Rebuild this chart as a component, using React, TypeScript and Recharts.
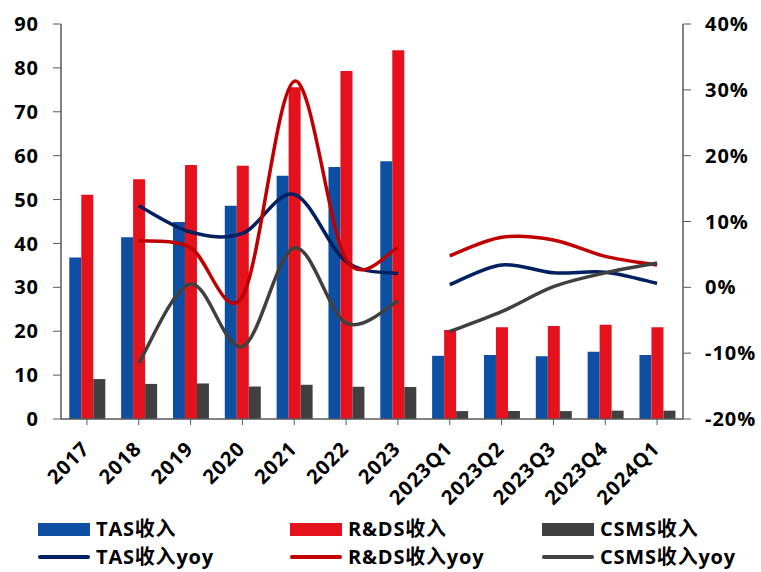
import React from 'react';
import { ComposedChart, Bar, Line, XAxis, YAxis } from 'recharts';

const categories = ['2017', '2018', '2019', '2020', '2021', '2022', '2023', '2023Q1', '2023Q2', '2023Q3', '2023Q4', '2024Q1'];
const tasRevenue = [36.8, 41.4, 44.9, 48.6, 55.4, 57.4, 58.7, 14.4, 14.6, 14.3, 15.3, 14.6];
const rdsRevenue = [51.1, 54.6, 57.9, 57.7, 75.6, 79.3, 84.0, 20.3, 20.9, 21.2, 21.5, 20.9];
const csmsRevenue = [9.1, 8.0, 8.1, 7.4, 7.8, 7.35, 7.3, 1.8, 1.8, 1.8, 1.9, 1.9];
// YoY (%), null where not present
const tasYoy = [null, 12.4, 8.4, 8.2, 14.1, 3.9, 2.1, 0.4, 3.4, 2.2, 2.3, 0.6];
const rdsYoy = [null, 7.1, 6.0, -1.4, 31.3, 4.2, 6.0, 4.8, 7.6, 7.2, 4.7, 3.4];
const csmsYoy = [null, -11.5, 0.5, -9.0, 6.0, -5.4, -2.1, -6.7, -3.7, 0.1, 2.2, 3.7];
const annualCount = 7;
const leftTicks = [0, 10, 20, 30, 40, 50, 60, 70, 80, 90];
const rightTicks = [-20, -10, 0, 10, 20, 30, 40];

const data = categories.map((c, i) => ({
  name: c,
  tas: tasRevenue[i],
  rds: rdsRevenue[i],
  csms: csmsRevenue[i],
  tasYoyA: i < annualCount ? tasYoy[i] : null,
  tasYoyQ: i >= annualCount ? tasYoy[i] : null,
  rdsYoyA: i < annualCount ? rdsYoy[i] : null,
  rdsYoyQ: i >= annualCount ? rdsYoy[i] : null,
  csmsYoyA: i < annualCount ? csmsYoy[i] : null,
  csmsYoyQ: i >= annualCount ? csmsYoy[i] : null,
}));

// Excel-like smoothing curve (Catmull-Rom style cubic Bezier)
function excelCurve(context: any) {
  let pts: number[][] = [];
  return {
    areaStart() {},
    areaEnd() {},
    lineStart() {
      pts = [];
    },
    lineEnd() {
      const n = pts.length;
      if (n === 0) return;
      context.moveTo(pts[0][0], pts[0][1]);
      if (n === 1) {
        context.lineTo(pts[0][0], pts[0][1]);
        return;
      }
      for (let i = 0; i < n - 1; i++) {
        const p0 = pts[i - 1] || pts[i];
        const p1 = pts[i];
        const p2 = pts[i + 1];
        const p3 = pts[i + 2] || p2;
        const c1x = p1[0] + (p2[0] - p0[0]) / 6;
        const c1y = p1[1] + (p2[1] - p0[1]) / 6;
        const c2x = p2[0] - (p3[0] - p1[0]) / 6;
        const c2y = p2[1] - (p3[1] - p1[1]) / 6;
        context.bezierCurveTo(c1x, c1y, c2x, c2y, p2[0], p2[1]);
      }
    },
    point(x: number, y: number) {
      pts.push([+x, +y]);
    },
  };
}

const FONT = '"Open Sans", "Noto Sans CJK SC", sans-serif';
const AXIS_COLOR = '#595959';

const XTick = (props: any) => {
  const { x, y, payload } = props;
  const ax = x + 4;
  const ay = y + 23;
  return (
    <text
      x={ax}
      y={ay}
      textAnchor="end"
      transform={`rotate(-45, ${ax}, ${ay})`}
      fontFamily={FONT}
      fontWeight={700}
      fontSize={20}
      letterSpacing={1}
      fill="#000"
    >
      {payload.value}
    </text>
  );
};

const legendItems = [
  { label: 'TAS收入', color: '#0D4FA3', kind: 'bar' },
  { label: 'R&DS收入', color: '#E5121D', kind: 'bar' },
  { label: 'CSMS收入', color: '#404040', kind: 'bar' },
  { label: 'TAS收入yoy', color: '#002060', kind: 'line' },
  { label: 'R&DS收入yoy', color: '#C00000', kind: 'line' },
  { label: 'CSMS收入yoy', color: '#404040', kind: 'line' },
];
const legendCols = [38, 290, 542];
const legendRows = [529, 557];

export default function App() {
  return (
    <div style={{ position: 'absolute', left: 0, top: 0, width: 761, height: 572, background: '#fff' }}>
      <ComposedChart
        width={761}
        height={572}
        data={data}
        margin={{ top: 24, right: 0, bottom: 0, left: 0 }}
        barCategoryGap="16%"
        barGap={0}
      >
        <XAxis
          dataKey="name"
          height={153}
          tick={<XTick />}
          interval={0}
          tickLine={{ stroke: AXIS_COLOR }}
          axisLine={{ stroke: AXIS_COLOR, strokeWidth: 1.5 }}
          tickSize={6}
        />
        <YAxis
          yAxisId="left"
          orientation="left"
          width={61}
          domain={[0, 90]}
          ticks={leftTicks}
          interval={0}
          tickSize={8}
          tickMargin={14}
          tickLine={{ stroke: AXIS_COLOR }}
          axisLine={{ stroke: AXIS_COLOR, strokeWidth: 1.5 }}
          tick={{ fontFamily: FONT, fontWeight: 700, fontSize: 20, letterSpacing: 1, fill: '#000' }}
        />
        <YAxis
          yAxisId="right"
          orientation="right"
          width={78}
          domain={[-20, 40]}
          ticks={rightTicks}
          interval={0}
          tickSize={8}
          tickMargin={14}
          tickFormatter={(v: number) => `${v}%`}
          tickLine={{ stroke: AXIS_COLOR }}
          axisLine={{ stroke: AXIS_COLOR, strokeWidth: 1.5 }}
          tick={{ fontFamily: FONT, fontWeight: 700, fontSize: 20, letterSpacing: 1, fill: '#000', textAnchor: 'start' }}
        />
        <Bar yAxisId="left" dataKey="tas" fill="#0D4FA3" isAnimationActive={false} />
        <Bar yAxisId="left" dataKey="rds" fill="#E5121D" isAnimationActive={false} />
        <Bar yAxisId="left" dataKey="csms" fill="#404040" isAnimationActive={false} />
        <Line yAxisId="right" dataKey="tasYoyA" type={excelCurve as any} stroke="#002060" strokeWidth={3.5} dot={false} activeDot={false} connectNulls={false} isAnimationActive={false} />
        <Line yAxisId="right" dataKey="tasYoyQ" type={excelCurve as any} stroke="#002060" strokeWidth={3.5} dot={false} activeDot={false} connectNulls={false} isAnimationActive={false} />
        <Line yAxisId="right" dataKey="rdsYoyA" type={excelCurve as any} stroke="#C00000" strokeWidth={3.5} dot={false} activeDot={false} connectNulls={false} isAnimationActive={false} />
        <Line yAxisId="right" dataKey="rdsYoyQ" type={excelCurve as any} stroke="#C00000" strokeWidth={3.5} dot={false} activeDot={false} connectNulls={false} isAnimationActive={false} />
        <Line yAxisId="right" dataKey="csmsYoyA" type={excelCurve as any} stroke="#404040" strokeWidth={3.5} dot={false} activeDot={false} connectNulls={false} isAnimationActive={false} />
        <Line yAxisId="right" dataKey="csmsYoyQ" type={excelCurve as any} stroke="#404040" strokeWidth={3.5} dot={false} activeDot={false} connectNulls={false} isAnimationActive={false} />
      </ComposedChart>
      {legendItems.map((item, i) => {
        const col = legendCols[i % 3];
        const rowY = legendRows[Math.floor(i / 3)];
        return (
          <div
            key={item.label}
            style={{
              position: 'absolute',
              left: col,
              top: rowY - 13,
              height: 26,
              display: 'flex',
              alignItems: 'center',
              fontFamily: FONT,
              fontWeight: 700,
              fontSize: 20,
              letterSpacing: 0.8,
              color: '#000',
              whiteSpace: 'nowrap',
            }}
          >
            {item.kind === 'bar' ? (
              <span style={{ display: 'inline-block', width: 52, height: 13, background: item.color, marginRight: 6 }} />
            ) : (
              <span style={{ display: 'inline-block', width: 52, height: 4, borderRadius: 2, background: item.color, marginRight: 6 }} />
            )}
            <span style={{ lineHeight: '26px' }}>{item.label}</span>
          </div>
        );
      })}
    </div>
  );
}
